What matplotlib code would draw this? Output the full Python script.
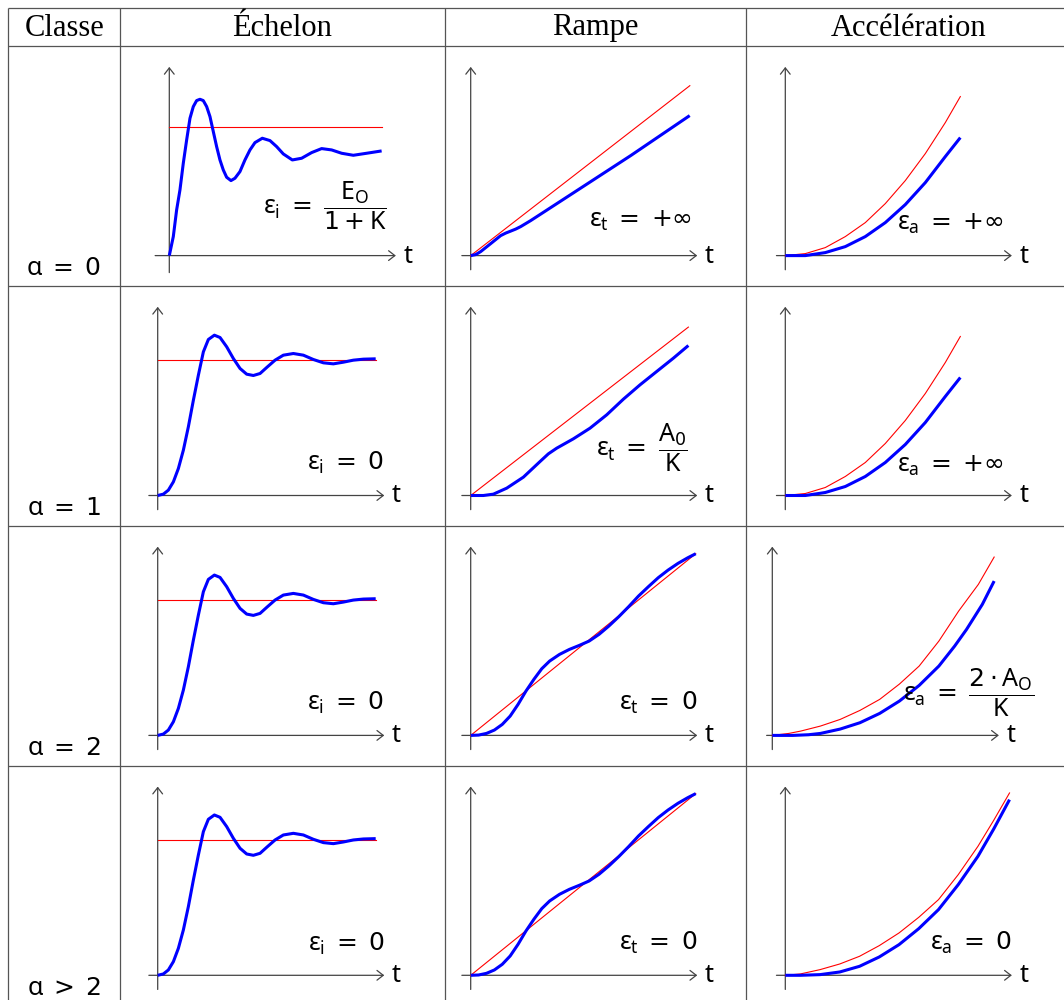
import numpy as np
import matplotlib
matplotlib.use("Agg")
import matplotlib.pyplot as plt
from matplotlib.patches import FancyArrowPatch

plt.rcParams["mathtext.fontset"] = "custom"
plt.rcParams["mathtext.rm"] = "DejaVu Sans"
plt.rcParams["mathtext.it"] = "Noto Sans"
plt.rcParams["mathtext.sf"] = "Noto Sans"
plt.rcParams["mathtext.fallback"] = "stixsans"

# ---------------- data (cm) ----------------
header = ["Classe", "Échelon", "Rampe", "Accélération"]
classes = [r"$\alpha\;=\;0$", r"$\alpha\;=\;1$", r"$\alpha\;=\;2$", r"$\alpha\;>\;2$"]

# step response, class 0 (static error)
step0_t = [0, 0.113, 0.207, 0.301, 0.395, 0.490, 0.584, 0.678, 0.772, 0.866,
           0.960, 1.055, 1.149, 1.243, 1.337, 1.431, 1.525, 1.620, 1.742, 1.855,
           1.996, 2.137, 2.279, 2.420, 2.627, 2.844, 3.032, 3.220, 3.475, 3.738,
           4.021, 4.303, 4.586, 4.868, 5.198, 5.574, 5.998]
step0_y = [0, 0.537, 1.290, 1.855, 2.608, 3.267, 3.879, 4.209, 4.379, 4.416,
           4.379, 4.209, 3.927, 3.503, 3.079, 2.702, 2.420, 2.213, 2.119, 2.185,
           2.373, 2.702, 2.985, 3.192, 3.315, 3.249, 3.079, 2.872, 2.702, 2.750,
           2.910, 3.023, 2.985, 2.891, 2.834, 2.891, 2.957]
step0_ref_t = [0, 6.00]
step0_ref_y = [3.64, 3.64]

# step response, class >= 1
step_t = [0, 0.160, 0.301, 0.443, 0.584, 0.725, 0.866, 1.008, 1.149, 1.290,
          1.431, 1.601, 1.761, 1.949, 2.137, 2.326, 2.514, 2.702, 2.891, 3.079,
          3.315, 3.550, 3.832, 4.115, 4.397, 4.680, 4.962, 5.245, 5.527, 5.810, 6.158]
step_y = [0, 0.038, 0.151, 0.386, 0.763, 1.281, 1.940, 2.693, 3.399, 4.058,
          4.407, 4.529, 4.463, 4.200, 3.870, 3.588, 3.427, 3.390, 3.446, 3.616,
          3.823, 3.964, 4.011, 3.964, 3.842, 3.748, 3.719, 3.766, 3.823, 3.851, 3.861]
step_ref_t = [0, 6.158]
step_ref_y = [3.823, 3.823]

# ramp response, class 0
ramp0_t = [0, 0.141, 0.282, 0.424, 0.565, 0.706, 0.847, 0.989, 1.130, 1.271,
           1.412, 1.695, 2.260, 3.390, 4.520, 6.186]
ramp0_y = [0, 0.028, 0.113, 0.226, 0.339, 0.452, 0.565, 0.636, 0.692, 0.749,
           0.819, 0.989, 1.356, 2.090, 2.825, 3.955]
ramp0_ref_t = [0, 6.19]
ramp0_ref_y = [0, 4.80]

# ramp response, class 1
ramp1_t = [0, 0.358, 0.640, 1.017, 1.488, 1.959, 2.194, 2.430, 2.900, 3.371,
           3.842, 4.313, 4.783, 5.254, 5.725, 6.149]
ramp1_y = [0, 0, 0.038, 0.207, 0.518, 0.960, 1.177, 1.337, 1.601, 1.902,
           2.279, 2.721, 3.126, 3.503, 3.879, 4.237]
ramp1_ref_t = [0, 6.149]
ramp1_ref_y = [0, 4.757]

# ramp response, class >= 2
ramp_t = [0, 0.223, 0.446, 0.669, 0.892, 1.115, 1.338, 1.561, 1.784, 2.007,
          2.230, 2.509, 2.788, 3.067, 3.346, 3.624, 3.903, 4.182, 4.461, 4.740,
          5.018, 5.297, 5.576, 5.855, 6.134, 6.357]
ramp_y = [0, 0.009, 0.056, 0.151, 0.311, 0.546, 0.876, 1.252, 1.582, 1.883,
          2.100, 2.288, 2.429, 2.542, 2.665, 2.853, 3.089, 3.352, 3.635, 3.936,
          4.200, 4.454, 4.670, 4.859, 5.019, 5.132]
ramp_ref_t = [0, 6.357]
ramp_ref_y = [0, 5.132]

# acceleration response, class 0 and 1
acc01_t = [0, 0.565, 1.130, 1.695, 2.260, 2.825, 3.390, 3.955, 4.520, 4.944]
acc01_y = [0, 0, 0.085, 0.254, 0.537, 0.932, 1.441, 2.062, 2.797, 3.333]
acc01_ref_t = [0, 0.565, 1.130, 1.695, 2.260, 2.825, 3.390, 3.955, 4.520, 4.944]
acc01_ref_y = [0, 0.056, 0.226, 0.537, 0.932, 1.469, 2.119, 2.881, 3.757, 4.492]

# acceleration response, class 2
acc2_t = [0, 0.580, 1.026, 1.361, 1.918, 2.476, 3.033, 3.591, 4.149, 4.706,
          5.152, 5.487, 5.933, 6.267]
acc2_y = [0, 0, 0.019, 0.056, 0.179, 0.358, 0.621, 0.970, 1.412, 1.959,
          2.524, 2.994, 3.701, 4.360]
acc2_ref_t = [0, 0.468, 0.803, 1.361, 1.918, 2.476, 3.033, 3.591, 4.149, 4.706,
              5.264, 5.821, 6.267]
acc2_ref_y = [0, 0.056, 0.122, 0.264, 0.452, 0.706, 1.017, 1.450, 1.959, 2.665,
              3.512, 4.266, 5.038]

# acceleration response, class > 2
acc3_t = [0, 0.424, 0.981, 1.539, 2.097, 2.654, 3.212, 3.770, 4.327, 4.885,
          5.442, 5.888, 6.334]
acc3_y = [0, 0, 0.019, 0.094, 0.254, 0.518, 0.866, 1.318, 1.855, 2.561,
          3.362, 4.134, 4.962]
acc3_ref_t = acc3_t
acc3_ref_y = [0, 0.038, 0.160, 0.320, 0.537, 0.838, 1.196, 1.638, 2.137, 2.843,
              3.644, 4.379, 5.151]

# ---------------- layout ----------------
W, H = 1064, 1000
S = 35.4                      # px per cm
COL_X = [8.3, 120, 444.5, 746, 1072]
ROW_Y = [7.5, 45.7, 286, 526, 766, 1006]
ORIGIN_Y = [255.6, 495.5, 735.4, 975.3]
XMIN, XMAX, YMIN, YMAX = -1.0, 8.2, -0.8, 5.8
AX_COLOR = "#444444"
MATH_FS = 18


def draw_panel(fig, ox, oy, t, y, ref_t, ref_y, label, lpos, x0=-0.25, y0=-0.4):
    rect = [(ox + XMIN * S) / W, (H - oy + YMIN * S) / H,
            (XMAX - XMIN) * S / W, (YMAX - YMIN) * S / H]
    ax = fig.add_axes(rect)
    ax.set_xlim(XMIN, XMAX)
    ax.set_ylim(YMIN, YMAX)
    ax.axis("off")
    for a, b in [((x0, 0), (6.4, 0)), ((0, y0), (0, 5.33))]:
        ax.add_patch(FancyArrowPatch(a, b, arrowstyle="->,head_length=0.45,head_width=0.35",
                                     mutation_scale=10, lw=0.9, color=AX_COLOR,
                                     shrinkA=0, shrinkB=0))
    ax.text(6.6, 0, r"$t$", fontsize=MATH_FS, ha="left", va="center")
    ax.plot(ref_t, ref_y, color="#ff0000", lw=0.8, clip_on=False)
    ax.plot(t, y, color="#0000ff", lw=2.2, clip_on=False,
            solid_joinstyle="round", solid_capstyle="butt")
    ax.text(lpos[0], lpos[1], label, fontsize=MATH_FS, ha="center", va="center")
    return ax


fig = plt.figure(figsize=(W / 100, H / 100), dpi=100)
bg = fig.add_axes([0, 0, 1, 1])
bg.set_xlim(0, W)
bg.set_ylim(H, 0)
bg.axis("off")
bg.hlines(ROW_Y, COL_X[0], COL_X[-1], color="#555555", lw=0.9)
bg.vlines(COL_X, ROW_Y[0], ROW_Y[-1], color="#555555", lw=0.9)
for i, h in enumerate(header):
    bg.text((COL_X[i] + COL_X[i + 1]) / 2, 35.5, h, fontsize=22,
            family="Liberation Serif", ha="center", va="baseline")
for r, c in enumerate(classes):
    bg.text(64, ROW_Y[r + 2] - 11, c, fontsize=MATH_FS, ha="center", va="baseline")

EQ = r"\;=\;"
INF = r"{+\infty}"
# row 1 : alpha = 0
draw_panel(fig, 169.3, ORIGIN_Y[0], step0_t, step0_y, step0_ref_t, step0_ref_y,
           r"$\varepsilon_i" + EQ + r"\dfrac{E_O}{1 + K}$", (4.41, 1.40), x0=-0.4, y0=-0.48)
draw_panel(fig, 470.7, ORIGIN_Y[0], ramp0_t, ramp0_y, ramp0_ref_t, ramp0_ref_y,
           r"$\varepsilon_t" + EQ + INF + "$", (4.80, 0.99))
draw_panel(fig, 785.3, ORIGIN_Y[0], acc01_t, acc01_y, acc01_ref_t, acc01_ref_y,
           r"$\varepsilon_a" + EQ + INF + "$", (4.66, 0.90))
# row 2 : alpha = 1
draw_panel(fig, 157.7, ORIGIN_Y[1], step_t, step_y, step_ref_t, step_ref_y,
           r"$\varepsilon_i" + EQ + r"0$", (5.30, 0.91))
draw_panel(fig, 470.7, ORIGIN_Y[1], ramp1_t, ramp1_y, ramp1_ref_t, ramp1_ref_y,
           r"$\varepsilon_t" + EQ + r"\dfrac{A_0}{K}$", (4.84, 1.34))
draw_panel(fig, 785.3, ORIGIN_Y[1], acc01_t, acc01_y, acc01_ref_t, acc01_ref_y,
           r"$\varepsilon_a" + EQ + INF + "$", (4.66, 0.85))
# row 3 : alpha = 2
draw_panel(fig, 157.7, ORIGIN_Y[2], step_t, step_y, step_ref_t, step_ref_y,
           r"$\varepsilon_i" + EQ + r"0$", (5.30, 0.91))
draw_panel(fig, 470.7, ORIGIN_Y[2], ramp_t, ramp_y, ramp_ref_t, ramp_ref_y,
           r"$\varepsilon_t" + EQ + r"0$", (5.30, 0.92))
draw_panel(fig, 772.3, ORIGIN_Y[2], acc2_t, acc2_y, acc2_ref_t, acc2_ref_y,
           r"$\varepsilon_a" + EQ + r"\dfrac{2 \cdot A_O}{K}$", (5.53, 1.20), x0=-0.16)
# row 4 : alpha > 2
draw_panel(fig, 157.7, ORIGIN_Y[3], step_t, step_y, step_ref_t, step_ref_y,
           r"$\varepsilon_i" + EQ + r"0$", (5.34, 0.90))
draw_panel(fig, 470.7, ORIGIN_Y[3], ramp_t, ramp_y, ramp_ref_t, ramp_ref_y,
           r"$\varepsilon_t" + EQ + r"0$", (5.30, 0.92))
draw_panel(fig, 785.3, ORIGIN_Y[3], acc3_t, acc3_y, acc3_ref_t, acc3_ref_y,
           r"$\varepsilon_a" + EQ + r"0$", (5.24, 0.91))

fig.savefig("out.png", dpi=100)
